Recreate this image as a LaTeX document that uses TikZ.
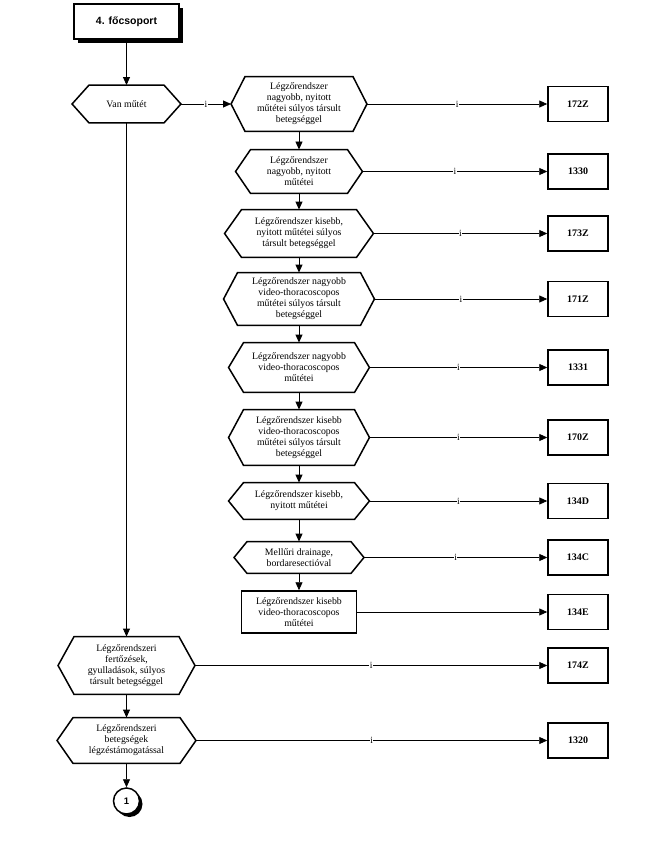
\documentclass[tikz,border=0pt]{standalone}
\usepackage{fontspec}
\setmainfont{Liberation Serif}
\newfontfamily\headfont{Liberation Sans}
\usetikzlibrary{arrows.meta,shadows}

% hexagon drawn round a named node: #1 node, #2 corner inset
\newcommand{\hexa}[2]{%
  \draw[line width=1.5pt] (#1.west) -- ([xshift=#2]#1.north west) -- ([xshift=-#2]#1.north east)
    -- (#1.east) -- ([xshift=-#2]#1.south east) -- ([xshift=#2]#1.south west) -- cycle;}

\begin{document}
\begin{tikzpicture}[x=1pt,y=-1pt,
					>={Triangle[length=8pt,width=7pt]},
					line width=0.9pt,
					text node/.style={align=center,inner sep=0pt,font=\fontsize{9.8}{11}\selectfont},
					code node/.style={draw,line width=1.5pt,minimum width=60pt,minimum height=35pt,
					                  font=\fontsize{10}{12}\selectfont\bfseries},
					yes/.style={midway,fill=white,inner sep=0.4pt,font=\fontsize{9.5}{9.5}\selectfont}]

  \useasboundingbox (0,0) rectangle (663,853);

  \node[draw,line width=1.5pt,fill=white,minimum width=105pt,minimum height=35pt,
        font=\headfont\fontsize{10.5}{12}\selectfont\bfseries,
        drop shadow={shadow xshift=4pt,shadow yshift=-4pt,fill=black,opacity=1}] (fo) at (126.5,21.5) {4. főcsoport};

  % decisions, left column
  \node[text node,minimum width=108pt,minimum height=37pt] (van) at (126.5,104) {Van műtét};
  \node[text node,minimum width=136pt,minimum height=57pt] (h10) at (126.5,665.5)
    {Légzőrendszeri\\fertőzések,\\gyulladások, súlyos\\társult betegséggel};
  \node[text node,minimum width=138pt,minimum height=45pt] (h11) at (126.5,740.5)
    {Légzőrendszeri\\betegségek\\légzéstámogatással};

  % decisions, right column
  \node[text node,minimum width=135pt,minimum height=54pt] (h1) at (299,104)
    {Légzőrendszer\\nagyobb, nyitott\\műtétei súlyos társult\\betegséggel};
  \node[text node,minimum width=126pt,minimum height=43pt] (h2) at (299,171.5)
    {Légzőrendszer\\nagyobb, nyitott\\műtétei};
  \node[text node,minimum width=148pt,minimum height=47pt] (h3) at (299,233.5)
    {Légzőrendszer kisebb,\\nyitott műtétei súlyos\\társult betegséggel};
  \node[text node,minimum width=150pt,minimum height=52pt] (h4) at (299,299)
    {Légzőrendszer nagyobb\\video-thoracoscopos\\műtétei súlyos társult\\betegséggel};
  \node[text node,minimum width=140pt,minimum height=49pt] (h5) at (299,367.5)
    {Légzőrendszer nagyobb\\video-thoracoscopos\\műtétei};
  \node[text node,minimum width=140pt,minimum height=55pt] (h6) at (299,437.5)
    {Légzőrendszer kisebb\\video-thoracoscopos\\műtétei súlyos társult\\betegséggel};
  \node[text node,minimum width=140pt,minimum height=36pt] (h7) at (299,501)
    {Légzőrendszer kisebb,\\nyitott műtétei};
  \node[text node,minimum width=129pt,minimum height=31pt] (h8) at (299,557.5)
    {Mellűri drainage,\\bordaresectióval};
  \node[text node,draw,line width=1.5pt,minimum width=115pt,minimum height=42pt] (r9) at (299,612)
    {Légzőrendszer kisebb\\video-thoracoscopos\\műtétei};

  \hexa{van}{17pt}
  \hexa{h1}{14pt}
  \hexa{h2}{15pt}
  \hexa{h3}{17pt}
  \hexa{h4}{14pt}
  \hexa{h5}{15pt}
  \hexa{h6}{15pt}
  \hexa{h7}{15pt}
  \hexa{h8}{13pt}
  \hexa{h10}{16pt}
  \hexa{h11}{16pt}

  % codes
  \node[code node] (c1) at (578,104) {172Z};
  \node[code node] (c2) at (578,171.5) {1330};
  \node[code node] (c3) at (578,233.5) {173Z};
  \node[code node] (c4) at (578,299) {171Z};
  \node[code node] (c5) at (578,367.5) {1331};
  \node[code node] (c6) at (578,437.5) {170Z};
  \node[code node] (c7) at (578,501) {134D};
  \node[code node] (c8) at (578,557.5) {134C};
  \node[code node] (c9) at (578,612) {134E};
  \node[code node] (c10) at (578,665.5) {174Z};
  \node[code node] (c11) at (578,740.5) {1320};

  \node[circle,draw,line width=1.5pt,fill=white,minimum size=26pt,inner sep=0pt,
        font=\headfont\fontsize{9.5}{9.5}\selectfont\bfseries,
        drop shadow={shadow xshift=3pt,shadow yshift=-3pt,fill=black,opacity=1}] (kp) at (126.5,801) {1};

  \draw[->] (fo.south) -- (van.north);
  \draw[->] (van.east) -- node[yes] {i} (h1.west);
  \draw[->] (van.south) -- (h10.north);
  \draw[->] (h10.south) -- (h11.north);
  \draw[->] (h11.south) -- (kp.north);

  \foreach \a/\b in {h1/h2,h2/h3,h3/h4,h4/h5,h5/h6,h6/h7,h7/h8,h8/r9}
    \draw[->] (\a.south) -- (\b.north);

  \foreach \a/\b in {h1/c1,h2/c2,h3/c3,h4/c4,h5/c5,h6/c6,h7/c7,h8/c8,h10/c10,h11/c11}
    \draw[->] (\a.east) -- node[yes] {i} (\b.west);
  \draw[->] (r9.east) -- (c9.west);
\end{tikzpicture}
\end{document}
